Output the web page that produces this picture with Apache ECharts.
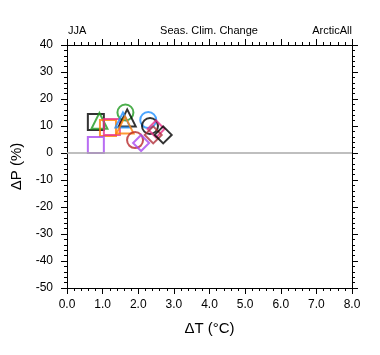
<!DOCTYPE html>
<html>
<head>
<meta charset="utf-8">
<script src="https://cdn.jsdelivr.net/npm/echarts@6/dist/echarts.min.js"></script>
<style>html,body{margin:0;padding:0;background:#fff}#c{width:380px;height:355px}</style>
</head>
<body>
<div id="c"></div>
<script>
// Data
var models = ['m1','m2','m3','m4','m5','m6','m7','m8','m9','m10','m11','m12','m13','m14','m15','m16'];
var deltaT = [0.81, 0.91, 1.15, 1.26, 0.81, 1.64, 1.69, 1.57, 1.63, 1.91, 2.08, 2.28, 2.33, 2.50, 2.42, 2.70];
var deltaP = [11.5, 11.9, 9.3, 9.6, 3.0, 15.0, 13.0, 12.2, 10.4, 4.8, 3.7, 12.2, 10.0, 8.9, 6.7, 6.7];
var xTicks = [0, 1, 2, 3, 4, 5, 6, 7, 8];
var yTicks = [-50, -40, -30, -20, -10, 0, 10, 20, 30, 40];
var titleTexts = ['JJA', 'Seas. Clim. Change', 'ArcticAll'];

// Styles (kept separate from data)
var markerShapes = ['rect','triangle','rect','rect','rect','circle','triangle','triangle','triangle','circle','diamond','circle','circle','diamond','diamond','diamond'];
var markerColors = ['#000000','#1f9a1f','#ff7f00','#e8308a','#a848f0','#1f9a1f','#000000','#1e8fff','#ff7f00','#b8282a','#a848f0','#1e8fff','#000000','#e8308a','#b0303a','#000000'];
var markerSizes = [16,16,16,16,16,16,17,15,17,16,16,16,16,17,17,17];

var font = 'Liberation Sans, Arial, Helvetica, sans-serif';
var chart = echarts.init(document.getElementById('c'), null, {renderer:'canvas'});

var series = [];
for (var i = 0; i < models.length; i++) {
  series.push({
    type: 'scatter',
    name: models[i],
    symbol: markerShapes[i],
    symbolSize: markerSizes[i],
    data: [[deltaT[i], deltaP[i]]],
    itemStyle: {color: 'rgba(0,0,0,0)', borderColor: markerColors[i], borderWidth: 2},
    z: 3,
    silent: true
  });
}
series.unshift({
  type: 'line',
  data: [],
  markLine: {
    silent: true, symbol: ['none','none'],
    lineStyle: {color: '#aaaaaa', width: 1.5, type: 'solid'},
    label: {show: false},
    data: [{yAxis: 0}]
  },
  z: 1
});

function xAxisCfg(pos, showLabels) {
  return {
    type: 'value', position: pos, min: xTicks[0], max: xTicks[xTicks.length - 1], interval: 1,
    axisLine: {show: true, onZero: false, lineStyle: {color: '#000', width: 1}},
    axisTick: {show: true, inside: false, length: 6, lineStyle: {color: '#000'}},
    minorTick: {show: true, splitNumber: 5, length: 3, lineStyle: {color: '#000'}},
    splitLine: {show: false},
    axisLabel: {show: showLabels, margin: 11, fontSize: 12, color: '#000', fontFamily: font,
      formatter: function (v) { return v.toFixed(1); }},
    name: showLabels ? '\u0394T (\u00B0C)' : '',
    nameLocation: 'middle', nameGap: 33,
    nameTextStyle: {fontSize: 15, color: '#000', fontFamily: font}
  };
}
function yAxisCfg(pos, showLabels) {
  return {
    type: 'value', position: pos, min: yTicks[0], max: yTicks[yTicks.length - 1], interval: 10,
    axisLine: {show: true, onZero: false, lineStyle: {color: '#000', width: 1}},
    axisTick: {show: true, inside: false, length: 6, lineStyle: {color: '#000'}},
    minorTick: {show: true, splitNumber: 5, length: 3, lineStyle: {color: '#000'}},
    splitLine: {show: false},
    axisLabel: {show: showLabels, margin: 14, fontSize: 12, color: '#000', fontFamily: font},
    name: showLabels ? '\u0394P (%)' : '',
    nameLocation: 'middle', nameGap: 38,
    nameTextStyle: {fontSize: 15, color: '#000', fontFamily: font}
  };
}

var tStyle = {fontSize: 11, fill: '#000', fontFamily: font, textVerticalAlign: 'middle'};
chart.setOption({
  animation: false,
  backgroundColor: '#fff',
  grid: {left: 67, right: 28, top: 45, bottom: 67, containLabel: false},
  graphic: [
    {type: 'text', x: 68, y: 31, style: Object.assign({text: titleTexts[0], textAlign: 'left'}, tStyle)},
    {type: 'text', x: 209, y: 31, style: Object.assign({text: titleTexts[1], textAlign: 'center'}, tStyle)},
    {type: 'text', x: 352, y: 31, style: Object.assign({text: titleTexts[2], textAlign: 'right'}, tStyle)}
  ],
  xAxis: [xAxisCfg('bottom', true), xAxisCfg('top', false)],
  yAxis: [yAxisCfg('left', true), yAxisCfg('right', false)],
  series: series
});
</script>
</body>
</html>
